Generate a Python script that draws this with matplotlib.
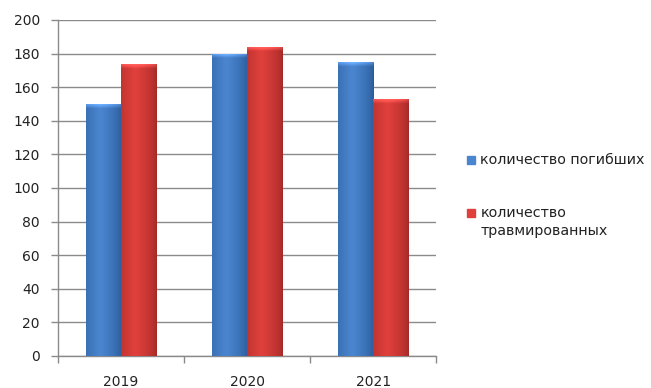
import numpy as np
import matplotlib
matplotlib.use('Agg')
import matplotlib.pyplot as plt
from matplotlib.patches import Rectangle
from matplotlib.colors import to_rgb

years = ['2019', '2020', '2021']
killed = [150, 180, 175]
injured = [174, 184, 153]
series_labels = ['количество погибших', 'количество\nтравмированных']

BLUE_MID, BLUE_EDGE = '#4a86d0', '#2a5896'
RED_MID, RED_EDGE = '#e0403c', '#a02826'


def cylinder_fill(ax, patch, mid, edge):
    """Paint a bar with a soft horizontal shading and a light top bevel."""
    x0, y0 = patch.get_x(), patch.get_y()
    w, h = patch.get_width(), patch.get_height()
    mid, edge = np.array(to_rgb(mid)), np.array(to_rgb(edge))
    u = np.linspace(0, 1, 60)
    # brightest a little left of center
    prof = np.clip(1 - np.abs(u - 0.4) / 0.6, 0, 1) ** 0.6
    row = edge + (mid - edge) * prof[:, None]
    nrows = 400
    img = np.repeat(row[None, :, :], nrows, axis=0)
    bevel = max(2, int(nrows * 3.5 / h))
    fade = np.linspace(0, 1, bevel)[:, None, None]
    img[-bevel:] = np.clip(img[-bevel:] * (1 + 0.2 * fade) + 0.12 * fade, 0, 1)
    im = ax.imshow(img, extent=[x0, x0 + w, y0, y0 + h], origin='lower',
                   aspect='auto', zorder=3, interpolation='bilinear')
    im.set_clip_path(patch)
    patch.set_alpha(0)


fig = plt.figure(figsize=(6.51, 3.88), dpi=100)
ax = fig.add_axes([0.089, 0.0825, 0.581, 0.866])

x = np.arange(len(years))
w = 0.28
b1 = ax.bar(x - w / 2, killed, w, color=BLUE_MID, zorder=3)
b2 = ax.bar(x + w / 2, injured, w, color=RED_MID, zorder=3)
for p in b1:
    cylinder_fill(ax, p, BLUE_MID, BLUE_EDGE)
for p in b2:
    cylinder_fill(ax, p, RED_MID, RED_EDGE)

ax.set_xlim(-0.5, len(years) - 0.5)
ax.set_ylim(0, 200)
ax.set_yticks(range(0, 201, 20))
ax.yaxis.grid(True, color='#8a8a8a', linewidth=1)
ax.set_axisbelow(True)

# category boundaries carry the tick marks, labels sit in the middle
ax.set_xticks(np.arange(-0.5, len(years)), minor=False)
ax.set_xticklabels([])
ax.set_xticks(x, minor=True)
ax.set_xticklabels(years, minor=True)
ax.tick_params(axis='x', which='major', length=5, color='#8a8a8a', width=1)
ax.tick_params(axis='x', which='minor', length=0, pad=14, labelsize=10,
               labelcolor='#222222')
ax.tick_params(axis='y', length=5, color='#8a8a8a', width=1, pad=8,
               labelsize=10, labelcolor='#222222')

for s in ['top', 'right']:
    ax.spines[s].set_visible(False)
for s in ['left', 'bottom']:
    ax.spines[s].set_color('#8a8a8a')
    ax.spines[s].set_linewidth(1)

# legend drawn by hand to the right of the plot
leg_y = [0.588, 0.451]
for yy, lab, col in zip(leg_y, series_labels, [BLUE_MID, RED_MID]):
    fig.patches.append(Rectangle((0.718, yy - 0.011), 0.0123, 0.021,
                                 transform=fig.transFigure, color=col))
    fig.text(0.738, yy + 0.018, lab, fontsize=10.3, color='#222222',
             va='top', ha='left', linespacing=1.4)

fig.savefig('out.png', dpi=100)
